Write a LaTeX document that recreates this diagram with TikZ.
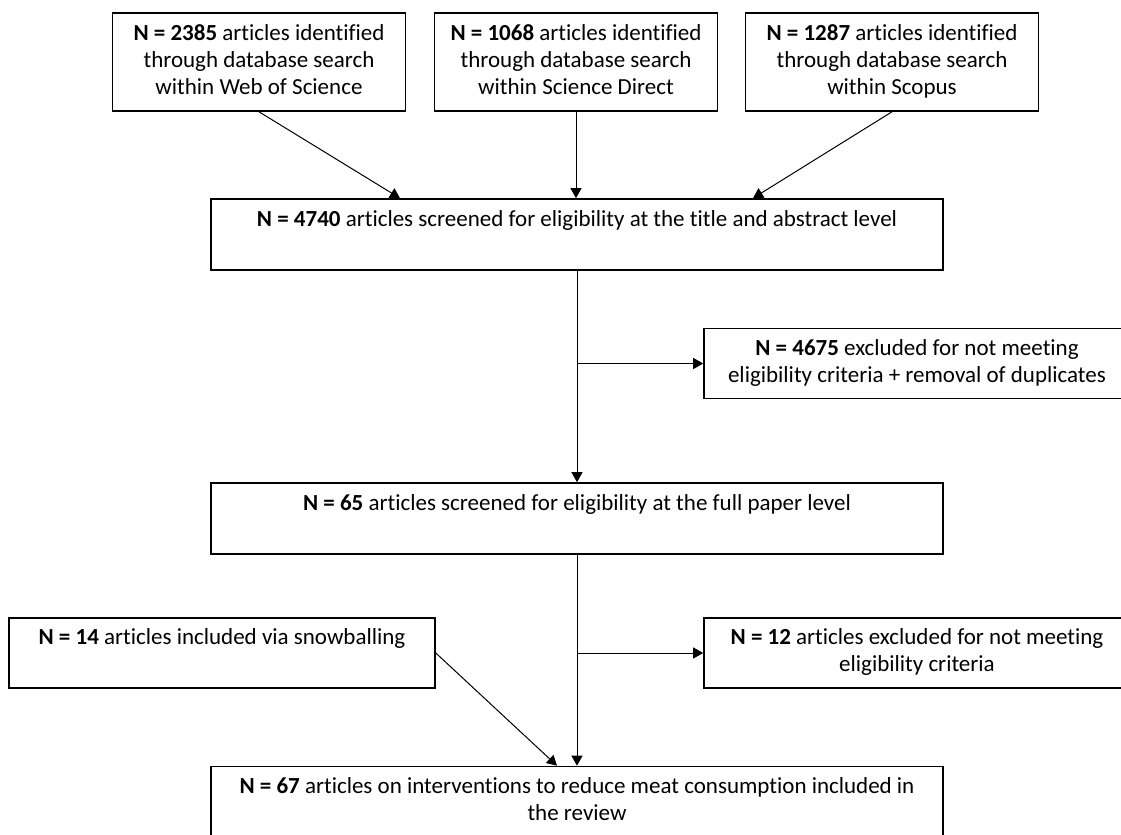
\documentclass[tikz,border=0pt]{standalone}
\usepackage{fontspec}
\setmainfont{Carlito}[Ligatures={NoCommon,NoRare}]
\usetikzlibrary{arrows.meta}
\tikzset{
  box/.style={
    draw,
    line width=0.8pt,
    align=center,
    inner sep=2pt,
    font=\fontsize{11.5pt}{13.5pt}\selectfont,
    execute at begin node=\rule{0pt}{14pt},
    execute at end node=\rule[-2.5pt]{0pt}{0pt}
  },
  srcbox/.style={box, minimum width=146.5pt, minimum height=49pt},
  widebox/.style={box, minimum width=366pt, minimum height=35.5pt},
  sidebox/.style={box, minimum width=213pt, minimum height=35pt},
  arrow/.style={-{Triangle[length=5pt,width=5.5pt]}, line width=0.5pt},
}
\begin{document}
\begin{tikzpicture}[x=0.5pt, y=-0.5pt]
\useasboundingbox (0,0) rectangle (1121,835);
\clip (0,0) rectangle (1121,835);

% Database searches
\node[srcbox] (wos) at (259,62) {\textbf{N = 2385} articles identified\\through database search\\within Web of Science};
\node[srcbox, minimum width=141.5pt] (sd) at (576,62) {\textbf{N = 1068} articles identified\\through database search\\within Science Direct};
\node[srcbox] (scopus) at (892,62) {\textbf{N = 1287} articles identified\\through database search\\within Scopus};

% Screening stages
\node[widebox] (screen) at (577,234.5) {\textbf{N = 4740} articles screened for eligibility at the title and abstract level\\\mbox{}};
\node[sidebox] (excl1) at (917,363.5) {\textbf{N = 4675} excluded for not meeting\\eligibility criteria + removal of duplicates};
\node[widebox] (full) at (577,518.5) {\textbf{N = 65} articles screened for eligibility at the full paper level\\\mbox{}};
\node[sidebox] (snow) at (222,653) {\textbf{N = 14} articles included via snowballing\\\mbox{}};
\node[sidebox] (excl2) at (917,653) {\textbf{N = 12} articles excluded for not meeting\\eligibility criteria};
\node[widebox] (incl) at (577,802) {\textbf{N = 67} articles on interventions to reduce meat consumption included in\\the review};

\draw[arrow] (wos.south) -- ([xshift=-88.5pt]screen.north);
\draw[arrow] (sd) -- (sd |- screen.north);
\draw[arrow] (scopus.south) -- ([xshift=88pt]screen.north);

\draw[arrow] (screen) -- (full);
\coordinate (split1) at (screen.south |- excl1);
\draw[arrow] (split1) -- (excl1);

\draw[arrow] (full) -- (incl);
\coordinate (split2) at (full.south |- excl2);
\draw[arrow] (split2) -- (excl2);
\draw[arrow] (snow.east) -- ([xshift=-10pt]incl.north);

\end{tikzpicture}
\end{document}
